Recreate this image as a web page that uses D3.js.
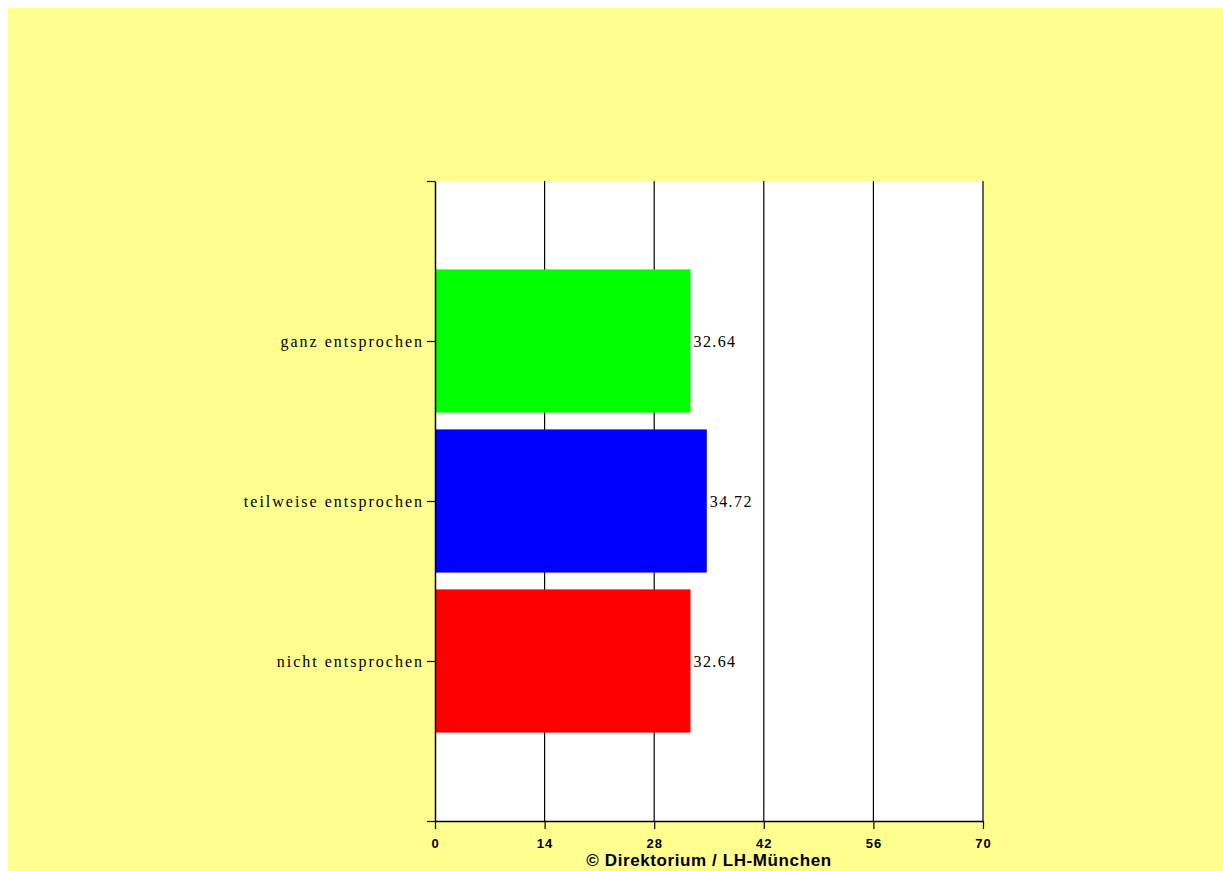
<!DOCTYPE html>
<html>
<head>
<meta charset="utf-8">
<script src="https://cdn.jsdelivr.net/npm/d3@7"></script>
<style>
  html, body { margin: 0; padding: 0; background: #ffffff; overflow: hidden; }
  #frame { position: fixed; left: 8px; top: 8px; right: 0; bottom: 0; background: #ffff90; overflow: hidden; }
  svg { display: block; }
</style>
</head>
<body>
<div id="frame"></div>
<script>
// Answer categories, top to bottom, with their shares in percent
const categories = ["ganz entsprochen", "teilweise entsprochen", "nicht entsprochen"];
const values = [32.64, 34.72, 32.64];
const barColors = ["#00ff00", "#0000ff", "#ff0000"];
const xTicks = [0, 14, 28, 42, 56, 70];
const footer = "\u00a9 Direktorium / LH-M\u00fcnchen";

const W = 1215, H = 863;
const plotLeft = 427, plotRight = 975, plotTop = 173, plotBottom = 813;

const svg = d3.select("#frame").append("svg").attr("width", W).attr("height", H);

const x = d3.scaleLinear().domain([0, 70]).range([plotLeft, plotRight]);
// categories sit at positions 1..3 on a 0..4 vertical scale
const y = d3.scaleLinear().domain([0, 4]).range([plotTop, plotBottom]);
const slot = y(1) - y(0);
const barH = slot * 0.895;

// plot background
svg.append("rect").attr("x", plotLeft).attr("y", plotTop)
  .attr("width", plotRight - plotLeft).attr("height", plotBottom - plotTop).attr("fill", "#ffffff");

// vertical grid lines
svg.append("g").selectAll("line").data(xTicks.slice(1)).join("line")
  .attr("x1", d => x(d)).attr("x2", d => x(d))
  .attr("y1", plotTop).attr("y2", plotBottom)
  .attr("stroke", "#000").attr("stroke-width", 1.2);

// bars
svg.append("g").selectAll("rect").data(values).join("rect")
  .attr("x", x(0))
  .attr("y", (d, i) => y(i + 1) - barH / 2)
  .attr("width", d => x(d) - x(0))
  .attr("height", barH)
  .attr("fill", (d, i) => barColors[i]);

// value labels
svg.append("g").selectAll("text").data(values).join("text")
  .attr("x", d => x(d) + 3)
  .attr("y", (d, i) => y(i + 1))
  .attr("dy", "0.35em")
  .attr("font-family", "'Liberation Serif', 'Times New Roman', serif")
  .attr("font-size", 16)
  .attr("letter-spacing", "1.4px")
  .attr("fill", "#000")
  .text(d => d.toFixed(2));

// x axis
const xAxis = d3.axisBottom(x).tickValues(xTicks).tickSize(8).tickSizeOuter(0).tickPadding(10);
const gx = svg.append("g").attr("transform", `translate(0,${plotBottom})`).call(xAxis);
gx.select(".domain").attr("stroke", "#000").attr("stroke-width", 1.5);
gx.selectAll(".tick line").attr("stroke", "#000").attr("stroke-width", 1.2);
gx.selectAll(".tick text")
  .attr("font-family", "'Liberation Sans', Arial, sans-serif")
  .attr("font-weight", "bold").attr("font-size", 13)
  .attr("letter-spacing", "1px").attr("fill", "#000");

// y axis
const yAxis = d3.axisLeft(y).tickValues([0, 1, 2, 3, 4])
  .tickFormat(d => (d >= 1 && d <= 3) ? categories[d - 1] : "")
  .tickSize(8).tickSizeOuter(0).tickPadding(3);
const gy = svg.append("g").attr("transform", `translate(${plotLeft},0)`).call(yAxis);
gy.select(".domain").attr("stroke", "#000").attr("stroke-width", 1.5);
gy.selectAll(".tick line").attr("stroke", "#000").attr("stroke-width", 1.2);
gy.selectAll(".tick text")
  .attr("font-family", "'Liberation Serif', 'Times New Roman', serif")
  .attr("font-size", 16).attr("letter-spacing", "2px").attr("fill", "#000");

// footer credit
svg.append("text")
  .attr("x", (plotLeft + plotRight) / 2).attr("y", H - 5)
  .attr("text-anchor", "middle")
  .attr("font-family", "'Liberation Sans', Arial, sans-serif")
  .attr("font-weight", "bold").attr("font-size", 17)
  .attr("letter-spacing", "0.6px").attr("fill", "#000")
  .text(footer);
</script>
</body>
</html>
